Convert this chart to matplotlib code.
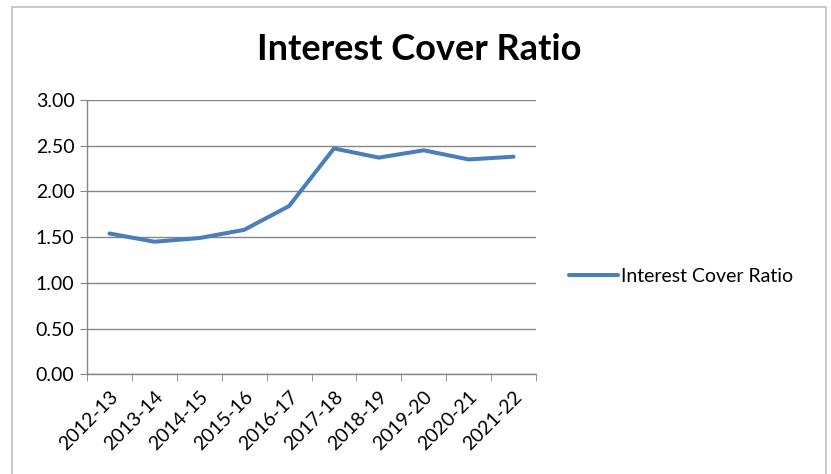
import matplotlib.pyplot as plt
from matplotlib.patches import Rectangle

years = ['2012-13', '2013-14', '2014-15', '2015-16', '2016-17',
         '2017-18', '2018-19', '2019-20', '2020-21', '2021-22']
icr = [1.54, 1.45, 1.49, 1.58, 1.84, 2.47, 2.37, 2.45, 2.35, 2.38]
y_ticks = [0.0, 0.5, 1.0, 1.5, 2.0, 2.5, 3.0]

plt.rcParams['font.family'] = ['Lato', 'DejaVu Sans']
grid_col = '#868686'
fs = 14

fig = plt.figure(figsize=(8.31, 4.74), dpi=100)
ax = fig.add_axes([87 / 831, 1 - 374.3 / 474, 449 / 831, 274.3 / 474])

# chart border, open at the bottom edge
fig.patches.append(Rectangle((12 / 831, -0.05), 814 / 831, 1.05 - 7 / 474,
                             transform=fig.transFigure, fill=False,
                             edgecolor='#bfbfbf', linewidth=1.2))

x = list(range(len(years)))
ax.plot(x, icr, color='#4a7ebb', linewidth=2.9, solid_capstyle='round',
        label='Interest Cover Ratio', zorder=3)

ax.set_xlim(-0.5, len(years) - 0.5)
ax.set_ylim(0, 3)
ax.set_yticks(y_ticks)
ax.set_yticklabels(['{:.2f}'.format(v) for v in y_ticks], fontsize=fs)
ax.yaxis.grid(True, color=grid_col, linewidth=1)
ax.set_axisbelow(True)

ax.set_xticks(x)
ax.set_xticklabels(years, rotation=45, ha='right', rotation_mode='anchor',
                   fontsize=fs)
ax.set_xticks([i - 0.5 for i in range(len(years) + 1)], minor=True)
ax.tick_params(axis='x', which='major', length=0, pad=10)
ax.tick_params(axis='x', which='minor', length=5, color=grid_col)
ax.tick_params(axis='y', length=5, color=grid_col, pad=4)

for s in ['top', 'right']:
    ax.spines[s].set_visible(False)
for s in ['left', 'bottom']:
    ax.spines[s].set_color(grid_col)
    ax.spines[s].set_linewidth(1)

fig.text(419 / 831, 1 - 50 / 474, 'Interest Cover Ratio', ha='center',
         va='center', fontsize=26, fontweight='bold')

ax.legend(loc='center left', bbox_to_anchor=(569 / 831, 1 - 276 / 474),
          bbox_transform=fig.transFigure, frameon=False, fontsize=fs,
          handlelength=2.5, handletextpad=0.15, borderpad=0,
          borderaxespad=0)

fig.savefig('out.png', dpi=100)
